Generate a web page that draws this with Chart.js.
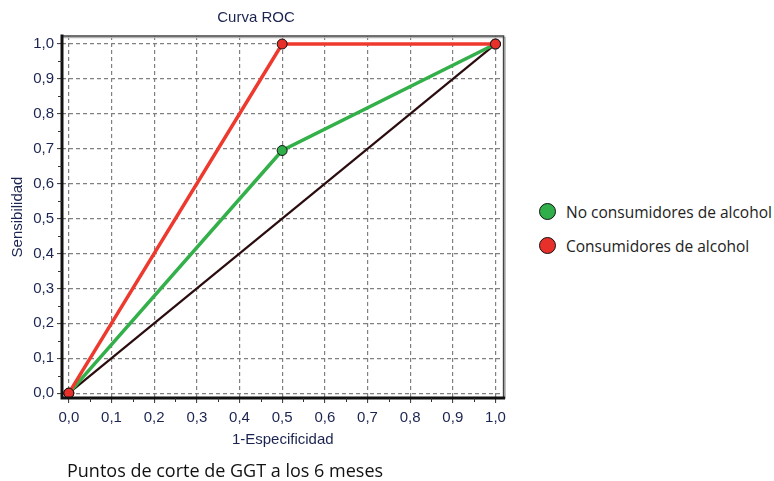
<!DOCTYPE html>
<html>
<head>
<meta charset="utf-8">
<script src="https://cdn.jsdelivr.net/npm/chart.js@4/dist/chart.umd.min.js"></script>
<style>
  html, body { margin: 0; padding: 0; background: #fff; }
  #wrap { position: relative; width: 774px; height: 481px; overflow: hidden; }
  #plot { position: absolute; left: 0; top: 0; width: 512px; height: 481px; }
  .legend { position: absolute; left: 539px; font-family: "Open Sans", sans-serif; font-size: 15.5px; color: #222; white-space: nowrap; }
  .legend span.dot { position: absolute; left: 0; top: 50%; width: 15px; height: 15px; margin-top: -9px; border: 1.5px solid #111; border-radius: 50%; }
  .legend span.txt { position: absolute; left: 27px; top: 50%; transform: translateY(-50%); }
  #caption { position: absolute; left: 67px; top: 461px; font-family: "Open Sans", sans-serif; font-size: 18px; line-height: 18px; color: #111; white-space: nowrap; }
</style>
</head>
<body>
<div id="wrap">
  <div id="plot"><canvas id="roc"></canvas></div>
  <div class="legend" style="top:212px"><span class="dot" style="background:#2fae4a"></span><span class="txt">No consumidores de alcohol</span></div>
  <div class="legend" style="top:246px"><span class="dot" style="background:#e8302a"></span><span class="txt">Consumidores de alcohol</span></div>
  <div id="caption">Puntos de corte de GGT a los 6 meses</div>
</div>
<script>
// 1-Especificidad at each cut-off point of GGT
const fpr = [0, 0.5, 1];
// Sensibilidad, no consumidores de alcohol
const tprNoConsumidores = [0, 0.695, 1];
// Sensibilidad, consumidores de alcohol
const tprConsumidores = [0, 1, 1];
// Reference diagonal (no discrimination)
const diagX = [0, 1];
const diagY = [0, 1];
// Labelled tick values on both axes
const tickValues = [0, 0.1, 0.2, 0.3, 0.4, 0.5, 0.6, 0.7, 0.8, 0.9, 1.0];
// Unlabelled minor tick marks between them
const minorTickValues = [0.05, 0.15, 0.25, 0.35, 0.45, 0.55, 0.65, 0.75, 0.85, 0.95];

const pts = (xs, ys) => xs.map((x, i) => ({ x: x, y: ys[i] }));
const fmt = v => v.toFixed(1).replace('.', ',');

// Frame around the plotting area: heavy left/bottom axes, thin top/right edges,
// plus the small minor tick marks outside the axes
const framePlugin = {
  id: 'frame',
  afterDatasetsDraw(chart) {
    const { ctx, chartArea: a, scales } = chart;
    ctx.save();
    ctx.lineCap = 'square';
    // thin top/right edge with soft shadow
    ctx.strokeStyle = '#b5b5b5';
    ctx.lineWidth = 1.5;
    ctx.beginPath();
    ctx.moveTo(a.left, a.top + 1.5);
    ctx.lineTo(a.right + 1.5, a.top + 1.5);
    ctx.lineTo(a.right + 1.5, a.bottom);
    ctx.stroke();
    ctx.strokeStyle = '#444';
    ctx.lineWidth = 1.5;
    ctx.beginPath();
    ctx.moveTo(a.left, a.top);
    ctx.lineTo(a.right, a.top);
    ctx.lineTo(a.right, a.bottom);
    ctx.stroke();
    // heavy left and bottom axes
    ctx.strokeStyle = '#111';
    ctx.lineWidth = 3;
    ctx.beginPath();
    ctx.moveTo(a.left, a.top);
    ctx.lineTo(a.left, a.bottom);
    ctx.lineTo(a.right, a.bottom);
    ctx.stroke();
    // minor ticks
    ctx.lineCap = 'butt';
    ctx.strokeStyle = '#333';
    ctx.lineWidth = 1;
    ctx.beginPath();
    minorTickValues.forEach(v => {
      const px = Math.round(scales.x.getPixelForValue(v)) + 0.5;
      ctx.moveTo(px, a.bottom);
      ctx.lineTo(px, a.bottom + 4);
      const py = Math.round(scales.y.getPixelForValue(v)) + 0.5;
      ctx.moveTo(a.left, py);
      ctx.lineTo(a.left - 4, py);
    });
    ctx.stroke();
    ctx.restore();
  }
};

const baseFont = '"Liberation Sans", Arial, sans-serif';
const tickFont = { family: baseFont, size: 15, weight: 'normal' };
const textColor = '#1b2450';

const gridCommon = {
  color: '#808080',
  lineWidth: 1.2,
  tickLength: 5,
  tickColor: '#333',
  tickWidth: 1,
  drawTicks: true
};

new Chart(document.getElementById('roc'), {
  type: 'line',
  data: {
    // earlier datasets are drawn on top
    datasets: [
      {
        label: 'Consumidores de alcohol',
        data: pts(fpr, tprConsumidores),
        borderColor: '#ee3a2e',
        borderWidth: 3.5,
        pointRadius: 5,
        pointBackgroundColor: '#e8302a',
        pointBorderColor: '#111',
        pointBorderWidth: 1,
        tension: 0
      },
      {
        label: 'No consumidores de alcohol',
        data: pts(fpr, tprNoConsumidores),
        borderColor: '#33b04a',
        borderWidth: 3.5,
        pointRadius: 5,
        pointBackgroundColor: '#2fae4a',
        pointBorderColor: '#111',
        pointBorderWidth: 1,
        tension: 0
      },
      {
        label: 'Diagonal',
        data: pts(diagX, diagY),
        borderColor: '#2a0c0e',
        borderWidth: 2.2,
        pointRadius: 0,
        tension: 0
      }
    ]
  },
  options: {
    responsive: true,
    maintainAspectRatio: false,
    animation: false,
    events: [],
    layout: { padding: { left: 0, right: 0, top: 0, bottom: 28 } },
    plugins: {
      legend: { display: false },
      tooltip: { enabled: false },
      title: {
        display: true,
        text: 'Curva ROC',
        color: textColor,
        font: { family: baseFont, size: 15, weight: 'normal' },
        padding: { top: 9, bottom: 9 }
      }
    },
    scales: {
      x: {
        type: 'linear',
        min: -0.016,
        max: 1.019,
        afterBuildTicks: s => { s.ticks = tickValues.map(v => ({ value: v })); },
        afterFit: s => { s.height = 55; },
        ticks: { callback: v => fmt(v), color: textColor, font: tickFont, padding: 6, maxRotation: 0, autoSkip: false },
        grid: gridCommon,
        border: { display: false, dash: [4, 3] },
        title: {
          display: true,
          text: '1-Especificidad',
          color: textColor,
          font: { family: baseFont, size: 15, weight: 'normal' },
          padding: { top: 4, bottom: 4 }
        }
      },
      y: {
        type: 'linear',
        min: -0.014,
        max: 1.023,
        afterBuildTicks: s => { s.ticks = tickValues.map(v => ({ value: v })); },
        afterFit: s => { s.width = 62; },
        ticks: { callback: v => fmt(v), color: textColor, font: tickFont, padding: 3, autoSkip: false },
        grid: gridCommon,
        border: { display: false, dash: [4, 3] },
        title: {
          display: true,
          text: 'Sensibilidad',
          color: textColor,
          font: { family: baseFont, size: 15, weight: 'normal' },
          padding: { top: 8.5, bottom: 0 }
        }
      }
    }
  },
  plugins: [framePlugin]
});
</script>
</body>
</html>
